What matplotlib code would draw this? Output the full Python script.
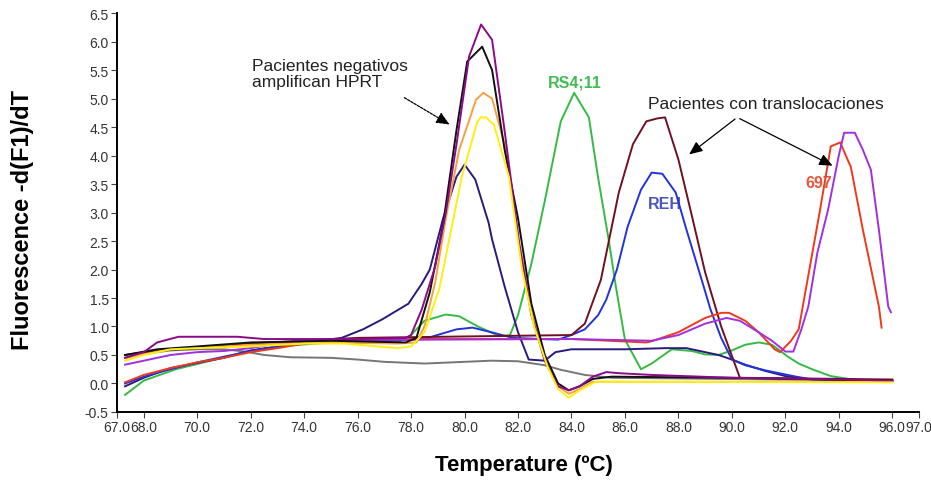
import matplotlib.pyplot as plt

plt.rcParams["font.family"] = ["Liberation Sans", "DejaVu Sans"]

# melt curves: temperature (C) and -d(F1)/dT
t_purple = [67.3, 68.0, 68.5, 69.3, 71.5, 72.5, 76.0, 77.8, 78.0, 78.4, 78.9, 79.3, 79.7, 80.17, 80.62,
            81.03, 81.48, 82.04, 82.5, 83.0, 83.5, 83.9, 84.3, 84.8, 85.3, 85.8, 87.0, 90.0, 93.0, 96.0]
v_purple = [0.45, 0.55, 0.72, 0.82, 0.82, 0.78, 0.78, 0.8, 0.85, 1.3, 2.05, 3.0, 4.2, 5.74, 6.3,
            6.03, 4.5, 2.47, 1.2, 0.4, -0.05, -0.12, -0.05, 0.12, 0.2, 0.18, 0.15, 0.1, 0.08, 0.05]

t_black = [67.3, 68.5, 70.0, 72.0, 75.0, 77.8, 78.2, 78.7, 79.2, 79.7, 80.1, 80.66, 81.03, 81.5,
           82.0, 82.5, 83.0, 83.5, 83.9, 84.3, 84.8, 85.5, 90.0, 96.0]
v_black = [0.5, 0.6, 0.65, 0.72, 0.75, 0.72, 0.8, 1.6, 2.8, 4.45, 5.65, 5.91, 5.5, 4.1,
           2.9, 1.4, 0.5, 0.0, -0.12, -0.05, 0.08, 0.12, 0.1, 0.05]

t_orange = [67.3, 69.0, 72.0, 75.0, 77.5, 78.2, 78.5, 78.9, 79.3, 79.8, 80.43, 80.7, 81.03, 81.55,
            82.04, 82.5, 83.0, 83.5, 83.9, 84.3, 84.8, 96.0]
v_orange = [0.45, 0.6, 0.68, 0.72, 0.7, 0.72, 1.0, 1.77, 2.9, 4.1, 4.98, 5.1, 5.0, 4.1,
            2.47, 1.3, 0.5, -0.05, -0.18, -0.1, 0.03, 0.03]

t_yellow = [67.3, 68.0, 69.0, 70.0, 72.0, 74.0, 75.5, 76.5, 77.5, 78.0, 78.5, 79.05, 79.5, 79.9, 80.47,
            80.6, 80.8, 81.1, 81.66, 82.15, 82.6, 83.1, 83.5, 83.9, 84.3, 84.9, 96.0]
v_yellow = [0.4, 0.5, 0.6, 0.62, 0.65, 0.7, 0.7, 0.66, 0.62, 0.65, 0.9, 1.65, 2.7, 3.63, 4.58,
            4.67, 4.67, 4.54, 3.63, 2.0, 1.0, 0.3, -0.1, -0.25, -0.12, 0.03, 0.02]

t_navy = [67.3, 68.0, 69.0, 70.0, 71.0, 72.0, 73.0, 74.0, 75.4, 76.2, 76.9, 77.9, 78.4, 78.7, 79.2,
          79.7, 80.0, 80.4, 80.9, 81.03, 81.5, 82.0, 82.4, 83.0, 83.4, 84.0, 86.0, 87.5, 88.3, 89.0,
          89.5, 90.0, 90.5, 91.25, 92.0, 92.8, 96.0]
v_navy = [-0.05, 0.1, 0.27, 0.36, 0.45, 0.58, 0.65, 0.72, 0.8, 0.95, 1.12, 1.4, 1.75, 2.0, 2.9,
          3.63, 3.84, 3.58, 2.82, 2.53, 1.7, 0.9, 0.42, 0.4, 0.55, 0.6, 0.6, 0.62, 0.62, 0.55,
          0.5, 0.42, 0.33, 0.22, 0.13, 0.08, 0.05]

t_green = [67.3, 68.0, 69.2, 70.5, 71.8, 73.0, 75.0, 77.0, 77.5, 78.0, 78.5, 79.3, 79.8, 80.5, 81.3,
           81.7, 82.0, 82.5, 83.0, 83.6, 84.1, 84.65, 85.0, 85.4, 85.66, 86.0, 86.6, 87.0, 87.75,
           88.5, 89.0, 89.5, 90.0, 90.5, 91.0, 91.5, 92.1, 92.5, 93.0, 93.7, 94.5, 96.0]
v_green = [-0.2, 0.05, 0.25, 0.4, 0.55, 0.65, 0.72, 0.72, 0.72, 0.85, 1.1, 1.21, 1.18, 1.0, 0.83,
           0.85, 1.2, 2.1, 3.2, 4.6, 5.1, 4.67, 3.6, 2.5, 1.7, 0.77, 0.25, 0.35, 0.6,
           0.57, 0.51, 0.5, 0.58, 0.68, 0.72, 0.68, 0.47, 0.35, 0.25, 0.13, 0.07, 0.05]

t_maroon = [67.3, 68.5, 70.0, 72.0, 74.0, 76.0, 84.0, 84.5, 85.1, 85.77, 86.3, 86.8, 87.2, 87.5,
            88.0, 88.5, 89.0, 89.6, 90.3, 96.0]
v_maroon = [0.5, 0.58, 0.62, 0.7, 0.75, 0.8, 0.85, 1.05, 1.82, 3.35, 4.2, 4.6, 4.65, 4.67,
            3.93, 2.95, 1.95, 1.0, 0.1, 0.07]

t_blue = [67.3, 68.0, 69.0, 70.0, 71.0, 72.0, 73.0, 74.0, 75.0, 77.0, 78.5, 79.05, 79.7, 80.3, 81.0,
          81.8, 83.5, 84.0, 84.5, 85.0, 85.3, 85.7, 86.1, 86.6, 87.0, 87.4, 87.9, 88.3, 88.87,
          89.2, 89.6, 90.0, 90.5, 91.25, 92.4, 93.0, 96.0]
v_blue = [0.0, 0.12, 0.25, 0.37, 0.47, 0.57, 0.65, 0.7, 0.75, 0.75, 0.78, 0.86, 0.95, 0.98, 0.9,
          0.8, 0.77, 0.85, 0.95, 1.2, 1.47, 2.0, 2.75, 3.4, 3.7, 3.68, 3.35, 2.7, 1.82,
          1.3, 0.8, 0.42, 0.32, 0.23, 0.12, 0.07, 0.05]

t_red = [67.3, 68.0, 69.0, 70.0, 71.0, 72.0, 73.0, 74.0, 75.0, 76.0, 84.0, 86.8, 87.0, 88.0, 89.0,
         89.6, 89.9, 90.5, 91.0, 91.6, 91.8, 92.2, 92.5, 92.9, 93.3, 93.7, 94.05, 94.45, 94.9,
         95.5, 95.6]
v_red = [0.02, 0.15, 0.27, 0.37, 0.45, 0.55, 0.62, 0.7, 0.75, 0.78, 0.78, 0.72, 0.74, 0.9, 1.15,
         1.24, 1.24, 1.1, 0.9, 0.6, 0.55, 0.74, 0.95, 2.0, 3.05, 4.16, 4.23, 3.8, 2.7,
         1.35, 0.98]

t_violet = [67.3, 68.0, 69.0, 70.0, 71.0, 72.0, 73.0, 74.0, 84.0, 87.0, 88.0, 89.0, 89.8, 90.3,
            91.0, 91.5, 92.0, 92.3, 92.6, 92.86, 93.2, 93.6, 94.0, 94.2, 94.6, 94.9, 95.2, 95.5,
            95.85, 95.95]
v_violet = [0.33, 0.4, 0.5, 0.55, 0.57, 0.62, 0.7, 0.76, 0.78, 0.75, 0.85, 1.05, 1.15, 1.1,
            0.9, 0.75, 0.56, 0.56, 0.95, 1.35, 2.3, 3.05, 4.0, 4.4, 4.4, 4.1, 3.75, 2.7,
            1.35, 1.25]

t_gray = [67.3, 68.0, 69.0, 70.0, 71.0, 71.8, 72.5, 73.5, 75.0, 76.0, 77.0, 78.5, 80.0, 81.0, 82.0,
          83.0, 83.6, 84.5, 85.5, 96.0]
v_gray = [0.45, 0.52, 0.58, 0.6, 0.6, 0.56, 0.5, 0.46, 0.45, 0.42, 0.38, 0.35, 0.38, 0.4, 0.39,
          0.32, 0.24, 0.15, 0.1, 0.05]

curves = [
    (t_gray, v_gray, "#767676"),
    (t_green, v_green, "#33bb44"),
    (t_navy, v_navy, "#2a1a80"),
    (t_blue, v_blue, "#2233dd"),
    (t_maroon, v_maroon, "#701020"),
    (t_red, v_red, "#ee3a1a"),
    (t_violet, v_violet, "#a030e0"),
    (t_orange, v_orange, "#f5a040"),
    (t_black, v_black, "#111111"),
    (t_purple, v_purple, "#8a0a8a"),
    (t_yellow, v_yellow, "#ffee11"),
]

x_ticks = [67.0, 68.0, 70.0, 72.0, 74.0, 76.0, 78.0, 80.0, 82.0, 84.0, 86.0, 88.0, 90.0, 92.0, 94.0, 96.0, 97.0]
y_ticks = [-0.5, 0.0, 0.5, 1.0, 1.5, 2.0, 2.5, 3.0, 3.5, 4.0, 4.5, 5.0, 5.5, 6.0, 6.5]

fig = plt.figure(figsize=(9.31, 4.85), dpi=100)
ax = fig.add_axes([0.1257, 0.1485, 0.8614, 0.8225])

for t, v, c in curves:
    ax.plot(t, v, color=c, lw=1.4)

ax.set_xlim(67.0, 97.0)
ax.set_ylim(-0.5, 6.5)
ax.set_xticks(x_ticks)
ax.set_xticklabels(["%.1f" % x for x in x_ticks])
ax.set_yticks(y_ticks)
ax.set_yticklabels(["%.1f" % y for y in y_ticks])
ax.tick_params(labelsize=10, labelcolor="#333333", color="#444444", length=4, width=0.8, pad=2)
for s in ["top", "right"]:
    ax.spines[s].set_visible(False)
for s in ["left", "bottom"]:
    ax.spines[s].set_linewidth(1.4)

# annotations
ax.text(72.05, 5.44, "Pacientes negativos\namplifican HPRT", fontsize=12.5, color="#222222",
        ha="left", va="center", linespacing=1.05)
ax.annotate("", xy=(79.53, 4.52), xytext=(77.66, 5.04),
            arrowprops=dict(arrowstyle="-|>,head_length=0.8,head_width=0.35", color="black",
                            lw=0.9, linestyle=(0, (2, 1))))
ax.text(86.87, 4.91, "Pacientes con translocaciones", fontsize=12.5, color="#222222",
        ha="left", va="center")
ax.annotate("", xy=(88.32, 3.99), xytext=(90.2, 4.67),
            arrowprops=dict(arrowstyle="-|>,head_length=0.8,head_width=0.35", color="black", lw=0.9))
ax.annotate("", xy=(93.86, 3.8), xytext=(90.2, 4.67),
            arrowprops=dict(arrowstyle="-|>,head_length=0.8,head_width=0.35", color="black", lw=0.9))
ax.text(84.13, 5.29, "RS4;11", fontsize=11.5, fontweight="bold", color="#44bb55",
        ha="center", va="center")
ax.text(86.87, 3.15, "REH", fontsize=11.5, fontweight="bold", color="#4a55c0",
        ha="left", va="center", zorder=0)
ax.text(92.74, 3.53, "697", fontsize=11.5, fontweight="bold", color="#e8553a",
        ha="left", va="center", zorder=0)

fig.text(0.563, 0.041, "Temperature (ºC)", fontsize=16, fontweight="bold", ha="center", va="center")
fig.text(0.024, 0.546, "Fluorescence -d(F1)/dT", fontsize=17, fontweight="bold", rotation=90,
         ha="center", va="center")

fig.savefig("out.png", dpi=100)
